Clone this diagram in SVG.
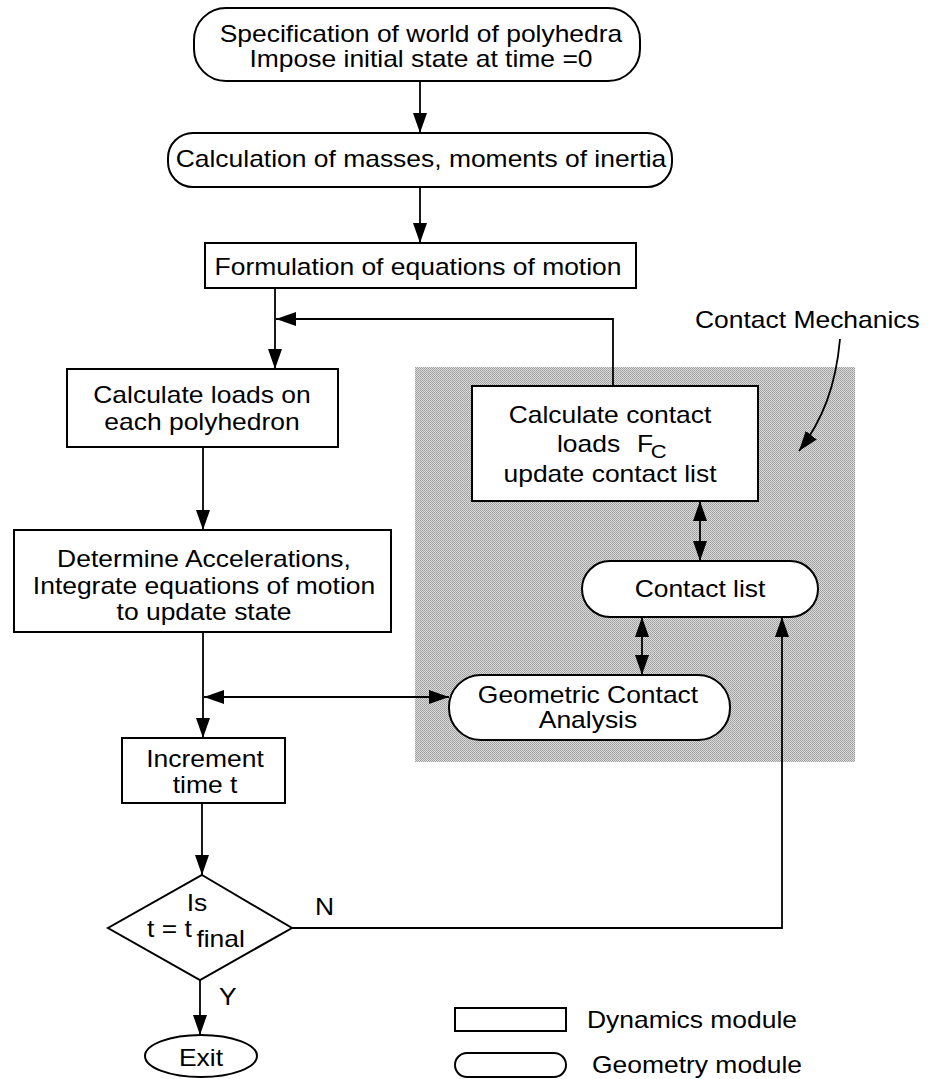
<svg xmlns="http://www.w3.org/2000/svg" width="931" height="1079" viewBox="0 0 931 1079">
<style>
.box{fill:#fff;stroke:#000;stroke-width:2}
.t{font-family:"Liberation Sans",Arial,sans-serif;font-size:23px;fill:#000;text-anchor:middle}
.s{font-family:"Liberation Sans",Arial,sans-serif;font-size:23px;fill:#000;text-anchor:start}
.c{fill:none;stroke:#000;stroke-width:1.8}
</style>
<defs>
<marker id="ah" markerUnits="userSpaceOnUse" markerWidth="20" markerHeight="14" refX="20" refY="7" orient="auto-start-reverse">
<path d="M0,0 L20,7 L0,14 z" fill="#000"/>
</marker>
<pattern id="dith" width="2" height="2" patternUnits="userSpaceOnUse">
<rect width="2" height="2" fill="#dadada"/>
<rect width="1" height="1" fill="#9e9e9e"/>
<rect x="1" y="1" width="1" height="1" fill="#a8a8a8"/>
</pattern>
</defs>
<rect id="contact-mechanics-region" x="415" y="367" width="440" height="395" fill="url(#dith)"/>
<g id="connectors">
<line class="c" x1="420" y1="81" x2="420" y2="133" marker-end="url(#ah)"/>
<line class="c" x1="420" y1="187" x2="420" y2="243" marker-end="url(#ah)"/>
<line class="c" x1="275" y1="288" x2="275" y2="369" marker-end="url(#ah)"/>
<polyline class="c" points="613,386 613,319 276,319" marker-end="url(#ah)"/>
<line class="c" x1="203" y1="447" x2="203" y2="530" marker-end="url(#ah)"/>
<line class="c" x1="203" y1="632" x2="203" y2="738" marker-end="url(#ah)"/>
<line class="c" x1="204" y1="697" x2="449" y2="697" marker-start="url(#ah)" marker-end="url(#ah)"/>
<line class="c" x1="700" y1="501" x2="700" y2="561" marker-start="url(#ah)" marker-end="url(#ah)"/>
<line class="c" x1="642" y1="617" x2="642" y2="675" marker-start="url(#ah)" marker-end="url(#ah)"/>
<line class="c" x1="202" y1="803" x2="202" y2="875" marker-end="url(#ah)"/>
<polyline class="c" points="292,928 782,928 782,617" marker-end="url(#ah)"/>
<line class="c" x1="200" y1="980" x2="200" y2="1035" marker-end="url(#ah)"/>
<path class="c" d="M840,339 C836,385 823,420 799,451" marker-end="url(#ah)"/>
</g>
<g id="n-spec">
<rect class="box" x="194" y="8" width="446" height="73" rx="32"/>
<text class="t" transform="translate(421 42) scale(1.15 1)">Specification of world of polyhedra</text>
<text class="t" transform="translate(421 67) scale(1.15 1)">Impose initial state at time =0</text>
</g>
<g id="n-masses">
<rect class="box" x="168" y="133" width="504" height="54" rx="25"/>
<text class="t" transform="translate(421 167) scale(1.15 1)">Calculation of masses, moments of inertia</text>
</g>
<g id="n-formulation">
<rect class="box" x="205" y="243" width="431" height="45"/>
<text class="t" transform="translate(418 275) scale(1.15 1)">Formulation of equations of motion</text>
</g>
<g id="n-loads">
<rect class="box" x="67" y="369" width="271" height="78"/>
<text class="t" transform="translate(202 403) scale(1.15 1)">Calculate loads on</text>
<text class="t" transform="translate(202 430) scale(1.15 1)">each polyhedron</text>
</g>
<g id="n-determine">
<rect class="box" x="14" y="530" width="377" height="102"/>
<text class="t" transform="translate(204 567) scale(1.15 1)">Determine Accelerations,</text>
<text class="t" transform="translate(204 594) scale(1.15 1)">Integrate equations of motion</text>
<text class="t" transform="translate(204 620) scale(1.15 1)">to update state</text>
</g>
<g id="n-increment">
<rect class="box" x="122" y="738" width="163" height="65"/>
<text class="t" transform="translate(205 767) scale(1.15 1)">Increment</text>
<text class="t" transform="translate(205 793) scale(1.15 1)">time t</text>
</g>
<g id="n-decision">
<polygon class="box" points="202,875 292,928 200,980 108,928"/>
<text class="t" transform="translate(197 911) scale(1.15 1)">Is</text>
<text class="s" transform="translate(147 937) scale(1.15 1)">t = t<tspan dx="4" dy="10">final</tspan></text>
<text class="s" transform="translate(315 915) scale(1.15 1)">N</text>
<text class="s" transform="translate(219 1005) scale(1.15 1)">Y</text>
</g>
<g id="n-exit">
<ellipse class="box" cx="201" cy="1056" rx="56" ry="21"/>
<text class="t" transform="translate(201 1066) scale(1.15 1)">Exit</text>
</g>
<g id="n-contact-loads">
<rect class="box" x="472" y="386" width="286" height="115"/>
<text class="t" transform="translate(610 423) scale(1.15 1)">Calculate contact</text>
<text class="s" transform="translate(557 452) scale(1.15 1)">loads<tspan x="69.5">F</tspan><tspan dx="-2" dy="6" font-size="19">C</tspan></text>
<text class="t" transform="translate(610 482) scale(1.15 1)">update contact list</text>
</g>
<g id="n-contact-list">
<rect class="box" x="582" y="561" width="236" height="56" rx="28"/>
<text class="t" transform="translate(700 597) scale(1.15 1)">Contact list</text>
</g>
<g id="n-geometric">
<rect class="box" x="449" y="675" width="281" height="65" rx="32"/>
<text class="t" transform="translate(588 703) scale(1.15 1)">Geometric Contact</text>
<text class="t" transform="translate(588 728) scale(1.15 1)">Analysis</text>
</g>
<g id="label-contact-mechanics">
<text class="s" transform="translate(695 328) scale(1.15 1)">Contact Mechanics</text>
</g>
<g id="legend">
<rect class="box" x="455" y="1008" width="111" height="23" stroke-width="1.5"/>
<text class="s" transform="translate(587 1028) scale(1.15 1)">Dynamics module</text>
<rect class="box" x="455" y="1053" width="111" height="24" rx="12" stroke-width="1.5"/>
<text class="s" transform="translate(592 1073) scale(1.15 1)">Geometry module</text>
</g>
</svg>
